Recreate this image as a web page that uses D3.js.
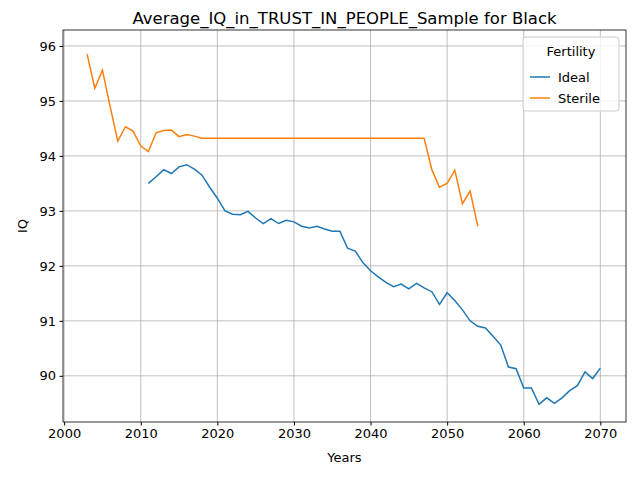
<!DOCTYPE html><html><head><script src="https://cdn.jsdelivr.net/npm/d3@7"></script>
<style>body{margin:0}text{font-family:"DejaVu Sans",sans-serif}</style></head><body><svg id="c" width="640" height="480"></svg>
<script>
const sterileYears=d3.range(2003,2055);
const sterileVals=[95.85,95.23,95.56,94.9,94.27,94.53,94.45,94.18,94.08,94.42,94.46,94.47,94.35,94.39,94.36,94.32,
94.32,94.32,94.32,94.32,94.32,94.32,94.32,94.32,94.32,94.32,94.32,94.32,94.32,94.32,94.32,94.32,94.32,94.32,94.32,94.32,94.32,94.32,94.32,94.32,94.32,94.32,94.32,94.32,94.32,
93.75,93.43,93.5,93.74,93.13,93.36,92.72];
const idealYears=d3.range(2011,2071);
const idealVals=[93.5,93.62,93.75,93.68,93.8,93.84,93.76,93.65,93.43,93.23,93.0,92.94,92.93,92.99,92.87,92.77,92.86,92.77,92.83,92.8,
92.72,92.69,92.72,92.67,92.63,92.63,92.32,92.27,92.06,91.91,91.8,91.7,91.62,91.67,91.58,91.68,91.6,91.53,91.3,91.51,
91.37,91.2,91.0,90.9,90.87,90.72,90.56,90.16,90.13,89.78,89.78,89.48,89.6,89.5,89.6,89.73,89.82,90.07,89.95,90.14];
const xTicks=[2000,2010,2020,2030,2040,2050,2060,2070];
const yTicks=[90,91,92,93,94,95,96];
const L=63,R=626,T=30,B=422;
const svg=d3.select("#c");
const x=d3.scaleLinear().domain([1999.85,2073.35]).range([L,R]);
const y=d3.scaleLinear().domain([89.16,96.29]).range([B,T]);
const g=svg.append("g");
g.selectAll(".gx").data(xTicks).join("line").attr("x1",d=>x(d)).attr("x2",d=>x(d)).attr("y1",T).attr("y2",B).attr("stroke","#b0b0b0").attr("stroke-width",0.8);
g.selectAll(".gy").data(yTicks).join("line").attr("y1",d=>y(d)).attr("y2",d=>y(d)).attr("x1",L).attr("x2",R).attr("stroke","#b0b0b0").attr("stroke-width",0.8);
const line=d3.line().x(d=>x(d[0])).y(d=>y(d[1]));
svg.append("path").datum(idealYears.map((d,i)=>[d,idealVals[i]])).attr("d",line).attr("fill","none").attr("stroke","#1f77b4").attr("stroke-width",1.5);
svg.append("path").datum(sterileYears.map((d,i)=>[d,sterileVals[i]])).attr("d",line).attr("fill","none").attr("stroke","#ff7f0e").attr("stroke-width",1.5);
svg.append("rect").attr("x",L).attr("y",T).attr("width",R-L).attr("height",B-T).attr("fill","none").attr("stroke","#000").attr("stroke-width",0.8);
const xa=svg.append("g").attr("transform",`translate(0,${B})`).call(d3.axisBottom(x).tickValues(xTicks).tickFormat(d3.format("d")).tickSize(3.5).tickPadding(3.5));
const ya=svg.append("g").attr("transform",`translate(${L},0)`).call(d3.axisLeft(y).tickValues(yTicks).tickSize(3.5).tickPadding(3.5));
[xa,ya].forEach(a=>{a.select(".domain").remove();a.selectAll("text").attr("font-size",13).attr("fill","#000").style("font-family","DejaVu Sans");});
svg.append("text").attr("x",(L+R)/2).attr("y",B+40).attr("text-anchor","middle").attr("font-size",13).text("Years");
svg.append("text").attr("transform",`translate(27,${(T+B)/2}) rotate(-90)`).attr("text-anchor","middle").attr("font-size",13).text("IQ");
svg.append("text").attr("x",(L+R)/2).attr("y",T-6).attr("text-anchor","middle").attr("font-size",16.5).text("Average_IQ_in_TRUST_IN_PEOPLE_Sample for Black");
const lg=svg.append("g").attr("transform","translate(523,37)");
lg.append("rect").attr("width",96).attr("height",74).attr("rx",3).attr("fill","#fff").attr("fill-opacity",0.8).attr("stroke","#ccc");
lg.append("text").attr("x",48).attr("y",19).attr("text-anchor","middle").attr("font-size",13).text("Fertility");
[["Ideal","#1f77b4"],["Sterile","#ff7f0e"]].forEach((s,i)=>{const yy=40+i*21;
lg.append("line").attr("x1",7).attr("x2",27).attr("y1",yy).attr("y2",yy).attr("stroke",s[1]).attr("stroke-width",1.5);
lg.append("text").attr("x",35).attr("y",yy+4.5).attr("font-size",13).text(s[0]);});
</script></body></html>
